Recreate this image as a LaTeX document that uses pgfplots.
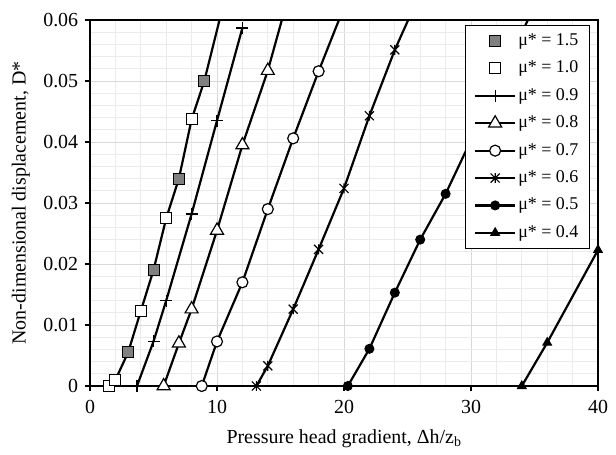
\documentclass[border=0pt]{standalone}
\usepackage{fontspec}
\setmainfont{Liberation Serif}
\usepackage{pgfplots}
\pgfplotsset{compat=1.18}

% X-shaped mark with a vertical bar through it
\pgfdeclareplotmark{xbar}{%
  \pgfpathmoveto{\pgfqpoint{-\pgfplotmarksize}{-\pgfplotmarksize}}%
  \pgfpathlineto{\pgfqpoint{\pgfplotmarksize}{\pgfplotmarksize}}%
  \pgfpathmoveto{\pgfqpoint{-\pgfplotmarksize}{\pgfplotmarksize}}%
  \pgfpathlineto{\pgfqpoint{\pgfplotmarksize}{-\pgfplotmarksize}}%
  \pgfpathmoveto{\pgfqpoint{0pt}{-1.1\pgfplotmarksize}}%
  \pgfpathlineto{\pgfqpoint{0pt}{1.1\pgfplotmarksize}}%
  \pgfusepathqstroke}

\begin{document}
\fontsize{20}{24}\selectfont
\begin{tikzpicture}
\begin{axis}[
  name=ax,
  scale only axis, width=508bp, height=366bp,
  xmin=0, xmax=40, ymin=0, ymax=0.06,
  xtick={0,10,20,30,40},
  ytick={0,0.01,0.02,0.03,0.04,0.05,0.06},
  xtick pos=bottom, ytick pos=left,
  minor x tick num=4, minor y tick num=4,
  grid=both,
  major grid style={draw=black!15, line width=0.8bp},
  minor grid style={draw=black!8, line width=0.8bp},
  tick align=outside, major tick length=5bp, minor tick length=0pt,
  tick style={black, line width=1.1bp},
  axis line style={black, line width=1.2bp},
  scaled y ticks=false,
  yticklabel style={/pgf/number format/fixed, /pgf/number format/precision=2},
  /pgf/number format/assume math mode=true,
  xticklabel style={yshift=-2bp},
  xlabel={Pressure head gradient, Δh/z\textsubscript{b}},
  ylabel={Non-dimensional displacement, D*},
  xlabel style={yshift=-3bp},
  legend style={at={(0.984,0.986)}, anchor=north east, draw=black,
    line width=1.1bp, font=\fontsize{18}{20}\selectfont,
    row sep=8.5bp, inner xsep=9bp, inner ysep=6bp, fill=white},
  legend cell align=left,
  legend image code/.code={%
    \draw[#1] plot[mark=none] coordinates {(0bp,0bp) (40bp,0bp)};
    \draw[#1] plot coordinates {(20bp,0bp)};},
  every axis plot/.append style={black, line width=2.2bp},
]

% common line through the mu*=1.0 and mu*=1.5 results
\addplot[no marks, forget plot] coordinates {
  (1.5,0) (2,0.001) (3,0.0055) (4,0.0123) (5,0.019) (6,0.0275)
  (7,0.034) (8,0.0437) (9,0.050) (10.2,0.06)};

\addplot[only marks, mark=square*, mark size=5.5bp,
  mark options={fill=black!50, draw=black, line width=1bp}] coordinates {
  (3,0.0055) (5,0.019) (7,0.034) (9,0.050)};
\addlegendentry{μ* = 1.5}

\addplot[only marks, mark=square*, mark size=5.5bp,
  mark options={fill=white, draw=black, line width=1.1bp}] coordinates {
  (1.5,0) (2,0.001) (4,0.0123) (6,0.0275) (8,0.0437)};
\addlegendentry{μ* = 1.0}

\addplot[mark=+, mark size=6bp, mark options={line width=1.2bp}] coordinates {
  (3.7,0) (5,0.0073) (6,0.014) (8,0.0282) (10,0.0435) (12,0.0587)};
\addlegendentry{μ* = 0.9}

\addplot[mark=triangle*, mark size=7.5bp, mark indices={1,2,3,4,5,6},
  mark options={fill=white, line width=1.2bp}] coordinates {
  (5.8,0) (7,0.007) (8,0.0126) (10,0.0255) (12,0.0395) (14,0.0517) (16,0.0667)};
\addlegendentry{μ* = 0.8}

\addplot[mark=*, mark size=5.5bp, mark indices={1,2,3,4,5,6},
  mark options={fill=white, line width=1.2bp}] coordinates {
  (8.8,0) (10,0.0073) (12,0.017) (14,0.029) (16,0.0406) (18,0.0516) (20,0.0621)};
\addlegendentry{μ* = 0.7}

\addplot[mark=xbar, mark size=4.5bp, mark indices={1,2,3,4,5,6,7},
  mark options={line width=1.2bp}] coordinates {
  (13.1,0) (14,0.0033) (16,0.0126) (18,0.0224) (20,0.0324) (22,0.0443)
  (24,0.0551) (26,0.0644)};
\addlegendentry{μ* = 0.6}

\addplot[mark=*, mark size=4.5bp, mark indices={1,2,3,4,5,6,7,8},
  mark options={line width=1bp}] coordinates {
  (20.3,0) (22,0.0061) (24,0.0153) (26,0.024) (28,0.0315) (30,0.0403)
  (32,0.0491) (34,0.0579) (36,0.0667)};
\addlegendentry{μ* = 0.5}

\addplot[mark=triangle*, mark size=5bp, mark options={line width=1bp}] coordinates {
  (34,0) (36,0.0071) (40,0.0223)};
\addlegendentry{μ* = 0.4}

\end{axis}
% page margins around the plot area
\path (ax.south west) ++(-90bp,-67.5bp) rectangle ([xshift=18bp,yshift=20bp]ax.north east);
\end{tikzpicture}
\end{document}
